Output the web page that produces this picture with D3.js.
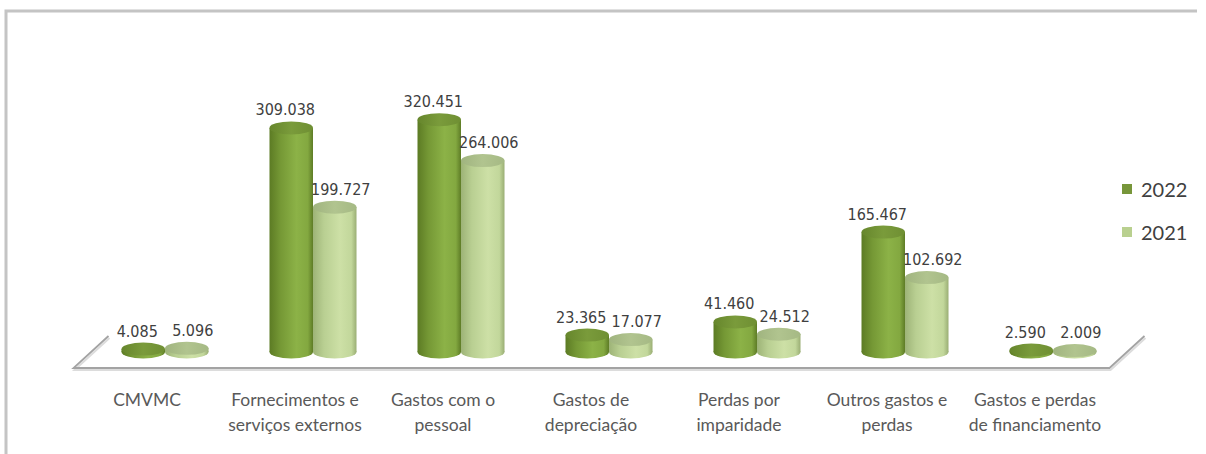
<!DOCTYPE html>
<html>
<head>
<meta charset="utf-8">
<script src="https://cdn.jsdelivr.net/npm/d3@7"></script>
<style>
  body { margin: 0; background: #fff; }
  svg { display: block; }
  .vlabel { font-family: "DejaVu Sans Condensed", "DejaVu Sans", sans-serif; font-size: 16px; fill: #404040; }
  .clabel { font-family: Lato, "DejaVu Sans Condensed", sans-serif; font-size: 17.5px; fill: #595959; }
  .legend { font-family: Lato, "DejaVu Sans Condensed", sans-serif; font-size: 20px; fill: #404040; }
</style>
</head>
<body>
<div id="chartArea"></div>
<script>
// data
var categories = ["CMVMC", "Fornecimentos e\nserviços externos", "Gastos com o\npessoal",
                  "Gastos de\ndepreciação", "Perdas por\nimparidade", "Outros gastos e\nperdas",
                  "Gastos e perdas\nde financiamento"];
var series = ["2022", "2021"];
var values2022 = [4085, 309038, 320451, 23365, 41460, 165467, 2590];
var values2021 = [5096, 199727, 264006, 17077, 24512, 102692, 2009];

var width = 1206, height = 454;

// portuguese number format, dot as thousands sep
var pt = d3.formatLocale({decimal: ",", thousands: ".", grouping: [3], currency: ["", " €"]});
var fmt = pt.format(",d");

var svg = d3.select("#chartArea").append("svg")
    .attr("width", width)
    .attr("height", height);

var defs = svg.append("defs");

// cylinder gradients
function grad(id, stops) {
    var g = defs.append("linearGradient").attr("id", id)
        .attr("x1", "0%").attr("x2", "100%").attr("y1", "0%").attr("y2", "0%");
    stops.forEach(function(s) {
        g.append("stop").attr("offset", s[0]).attr("stop-color", s[1]);
    });
}
grad("body2022", [["0%", "#5c7b24"], ["25%", "#759835"], ["62%", "#8cb247"], ["88%", "#83a840"], ["100%", "#5e7c26"]]);
grad("top2022", [["0%", "#66862c"], ["50%", "#7a9b3b"], ["100%", "#6f8f33"]]);
grad("body2021", [["0%", "#9db377"], ["25%", "#b9cf92"], ["62%", "#cde0a6"], ["88%", "#c2d79b"], ["100%", "#9aae74"]]);
grad("top2021", [["0%", "#a0b47f"], ["50%", "#b1c48f"], ["100%", "#a5b984"]]);

// frame
svg.append("path")
    .attr("d", "M6,454 L6,11 L1197,11")
    .attr("fill", "none")
    .attr("stroke", "#c4c4c4")
    .attr("stroke-width", 3);

// scales - bars sit in the middle depth of the floor
var depthX = 35, depthY = -32;
var floorY = 368;
var baseY = floorY + depthY / 2;

var x = d3.scaleBand()
    .domain(categories)
    .range([91, 1127]);

var bw = 43.5;
var x1 = d3.scaleBand()
    .domain(series)
    .range([x.step() / 2 - bw, x.step() / 2 + bw]);

var y = d3.scaleLinear()
    .domain([0, 350000])
    .range([baseY, baseY - 253.75]);

var ry = 6.5;

// floor
var fx0 = x.range()[0] - depthX / 2, fx1 = x.range()[1] - depthX / 2;
var floorPath = "M" + (fx0 + depthX) + "," + (floorY + depthY) + " L" + fx0 + "," + floorY +
               " L" + fx1 + "," + floorY + " L" + (fx1 + depthX) + "," + (floorY + depthY);
svg.append("path")
    .attr("d", floorPath)
    .attr("fill", "none")
    .attr("stroke", "#dcdcdc")
    .attr("stroke-width", 2)
    .attr("transform", "translate(1,2)");
svg.append("path")
    .attr("d", floorPath)
    .attr("fill", "none")
    .attr("stroke", "#a3a3a3")
    .attr("stroke-width", 1.8);

// bars
var data = [];
categories.forEach(function(c, i) {
    data.push({cat: c, key: "2022", value: values2022[i]});
    data.push({cat: c, key: "2021", value: values2021[i]});
});

var bars = svg.append("g").selectAll("g")
    .data(data)
    .enter().append("g");

bars.each(function(d) {
    var g = d3.select(this);
    var cx = x(d.cat) + x1(d.key) + bw / 2;
    var rx = bw / 2;
    var yt = y(d.value);
    g.append("ellipse")
        .attr("cx", cx).attr("cy", baseY).attr("rx", rx).attr("ry", ry)
        .attr("fill", "url(#body" + d.key + ")");
    g.append("rect")
        .attr("x", cx - rx).attr("y", yt).attr("width", bw).attr("height", baseY - yt)
        .attr("fill", "url(#body" + d.key + ")");
    g.append("ellipse")
        .attr("cx", cx).attr("cy", yt).attr("rx", rx).attr("ry", ry)
        .attr("fill", "url(#top" + d.key + ")");
});

// value labels (pushed apart a little, like the original)
var labelShift = {"2022": -6, "2021": 6};
svg.append("g").selectAll("text")
    .data(data)
    .enter().append("text")
    .attr("class", "vlabel")
    .attr("text-anchor", "middle")
    .attr("x", function(d) { return x(d.cat) + x1(d.key) + bw / 2 + labelShift[d.key]; })
    .attr("y", function(d) { return y(d.value) - ry - 6; })
    .text(function(d) { return fmt(d.value); });

// category labels
var cl = svg.append("g").selectAll("text")
    .data(categories)
    .enter().append("text")
    .attr("class", "clabel")
    .attr("text-anchor", "middle")
    .attr("x", function(d) { return x(d) + x.bandwidth() / 2 - 18; })
    .attr("y", 406);
cl.selectAll("tspan")
    .data(function(d) { return d.split("\n"); })
    .enter().append("tspan")
    .attr("x", function() { return d3.select(this.parentNode).attr("x"); })
    .attr("dy", function(d, i) { return i ? 25 : 0; })
    .text(function(d) { return d; });

// legend
var legColors = {"2022": "#77963a", "2021": "#b9d08f"};
var leg = svg.append("g").selectAll("g")
    .data(series)
    .enter().append("g")
    .attr("transform", function(d, i) { return "translate(1122," + (184 + i * 43) + ")"; });
leg.append("rect")
    .attr("width", 10).attr("height", 10)
    .attr("fill", function(d) { return legColors[d]; });
leg.append("text")
    .attr("class", "legend")
    .attr("x", 19)
    .attr("y", 13)
    .text(function(d) { return d; });
</script>
</body>
</html>
